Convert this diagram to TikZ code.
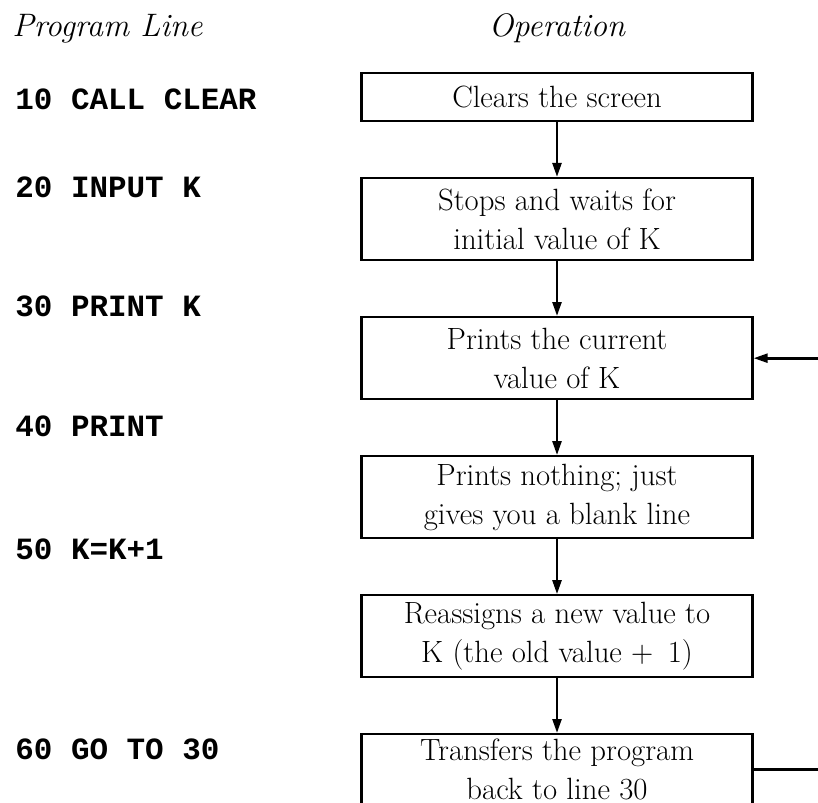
\documentclass[tikz,border=0pt]{standalone}
\usepackage{fontspec}
\setmonofont{Liberation Mono}
\usetikzlibrary{positioning,arrows.meta}

\begin{document}
\begin{tikzpicture}[
  x=0.02cm, y=-0.02cm,
  font=\fontsize{17.5}{22}\selectfont,
  opbox/.style={draw, line width=1.2pt, align=center, minimum width=7.82cm,
                minimum height=1.64cm, inner sep=4pt},
  codeline/.style={font=\ttfamily\bfseries\fontsize{17.6}{20}\selectfont, anchor=west, inner sep=0pt},
  heading/.style={font=\itshape\fontsize{18.5}{20}\selectfont, inner sep=0pt},
  flow/.style={-{Triangle[length=8pt,width=5pt]}, line width=1.6pt},
]
\useasboundingbox (0,0) rectangle (818,802);
\clip (0,0) rectangle (818,802);

% ---- Titles ----
\node[heading, anchor=base west] (hprog) at (12,36)  {Program Line};
\node[heading, anchor=base]      (hop)   at (557,36) {Operation};

% ---- Operation boxes ----
\node[opbox, minimum height=0.96cm] (clr) at (557,97) {Clears the screen};
\node[opbox, below=1.1cm of clr] (inp) {Stops and waits for\\initial value of K};
\node[opbox, below=1.1cm of inp] (prk) {Prints the current\\value of K};
\node[opbox, below=1.1cm of prk] (prn) {Prints nothing; just\\gives you a blank line};
\node[opbox, below=1.1cm of prn, minimum height=1.6cm] (inc) {Reassigns a new value to\\K (the old value + \,1)};
\node[opbox, below=1.1cm of inc, minimum height=1.4cm, inner ysep=1pt] (jmp) {Transfers the program\\back to line 30};

% ---- Program lines ----
\node[codeline] (l10) at (15,99)  {10 CALL CLEAR};
\node[codeline] (l20) at (15,187) {20 INPUT K};
\node[codeline] (l30) at (15,306) {30 PRINT K};
\node[codeline] (l40) at (15,426) {40 PRINT};
\node[codeline] (l50) at (15,549) {50 K=K+1};
\node[codeline] (l60) at (15,749) {60 GO TO 30};

% ---- Flow ----
\draw[flow] (clr) -- (inp);
\draw[flow] (inp) -- (prk);
\draw[flow] (prk) -- (prn);
\draw[flow] (prn) -- (inc);
\draw[flow] (inc) -- (jmp);

% ---- Loop back to 30 (runs off the page) ----
\coordinate (back) at (850,0);
\draw[flow] (jmp.east) -- (jmp.east -| back) -- (prk.east -| back) -- (prk.east);

\end{tikzpicture}
\end{document}
